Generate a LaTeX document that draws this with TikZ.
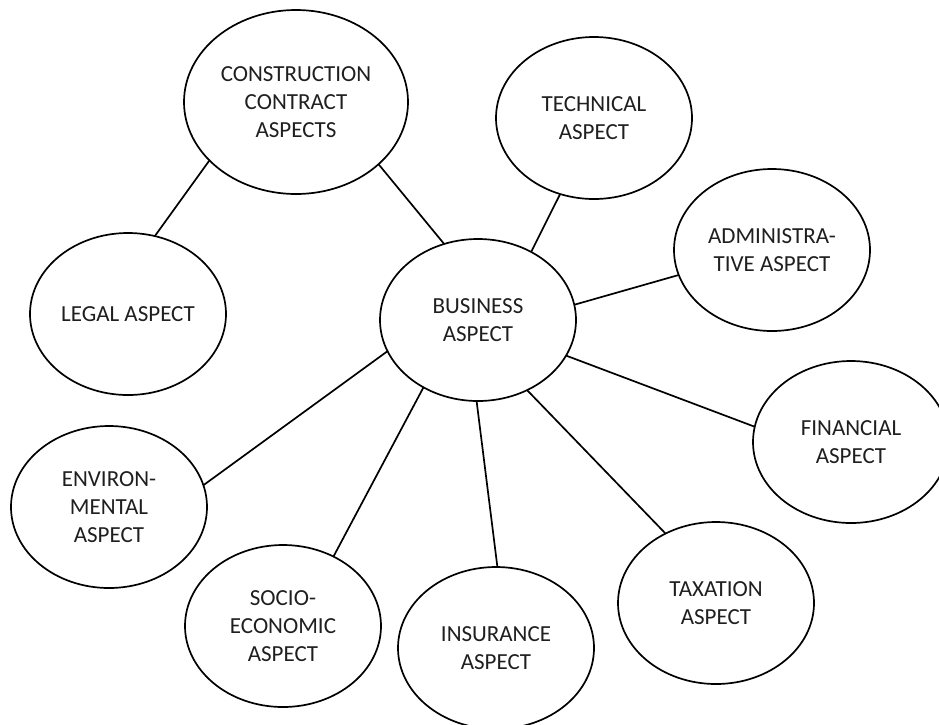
\documentclass[tikz,border=0pt]{standalone}
\usepackage{fontspec}
\setmainfont{Carlito}
\usetikzlibrary{shapes.geometric}
\begin{document}
\begin{tikzpicture}[x=1pt,y=-1pt,
  bubble/.style={ellipse, draw=black, line width=1.7pt, inner sep=0pt, outer sep=0pt,
    minimum width=196pt, minimum height=162pt, align=center,
    text=black!88, font=\fontsize{23}{28}\selectfont},
  link/.style={draw=black, line width=1.7pt}]
\useasboundingbox (0,0) rectangle (939,724);
\fill[white] (0,0) rectangle (939,724);
\node[bubble, minimum width=224pt, minimum height=184pt] (con) at (296,102) {CONSTRUCTION\\CONTRACT\\ASPECTS};
\node[bubble] (tec) at (594,118) {TECHNICAL\\ASPECT};
\node[bubble] (adm) at (772,250) {ADMINISTRA-\\TIVE ASPECT};
\node[bubble] (leg) at (128,314) {LEGAL ASPECT};
\node[bubble] (bus) at (478,320) {BUSINESS\\ASPECT};
\node[bubble] (fin) at (851,442) {FINANCIAL\\ASPECT};
\node[bubble] (env) at (109,507) {ENVIRON-\\MENTAL\\ASPECT};
\node[bubble] (soc) at (283,626) {SOCIO-\\ECONOMIC\\ASPECT};
\node[bubble] (ins) at (496,648) {INSURANCE\\ASPECT};
\node[bubble] (tax) at (716,603) {TAXATION\\ASPECT};
\draw[link] (con.214.7) -- (leg.71.1);
\draw[link] (con.-37.5) -- (bus.114.8);
\draw[link] (tec.246.7) -- (bus.52.6);
\draw[link] (adm.195) -- (bus.9.2);
\draw[link] (fin.171.3) -- (bus.-22.5);
\draw[link] (tax.126.1) -- (bus.-55.1);
\draw[link] (ins.89.3) -- (bus.269.3);
\draw[link] (soc.54.1) -- (bus.231);
\draw[link] (env.13.5) -- (bus.199.2);
\end{tikzpicture}
\end{document}
